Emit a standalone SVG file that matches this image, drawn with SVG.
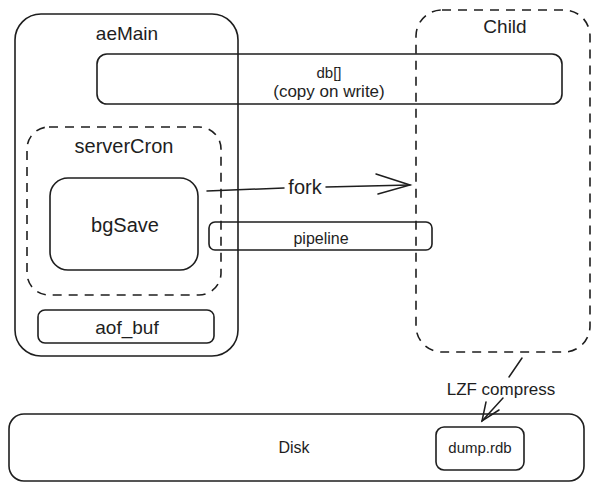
<svg xmlns="http://www.w3.org/2000/svg" width="602" height="492" viewBox="0 0 602 492">
<defs>
<style>
.box{fill:none;stroke:#1e1e1e;stroke-width:1.6}
.dash{fill:none;stroke:#1e1e1e;stroke-width:1.6;stroke-dasharray:9 7}
.ln{fill:none;stroke:#1e1e1e;stroke-width:1.5;stroke-linecap:round}
text{font-family:"Liberation Sans",Arial,sans-serif;fill:#1e1e1e;text-anchor:middle;dominant-baseline:central}
</style>
</defs>
<rect width="602" height="492" fill="#ffffff"/>
<g id="aeMain">
<rect class="box" x="15" y="14" width="223" height="342" rx="26"/>
<text x="127" y="33" font-size="19">aeMain</text>
</g>
<g id="child">
<rect class="dash" x="416" y="10" width="174" height="342" rx="26"/>
<text x="505" y="26" font-size="19">Child</text>
</g>
<g id="db">
<rect class="box" x="97" y="54" width="465" height="50" rx="10"/>
<text x="329" y="72" font-size="15">db[]</text>
<text x="329" y="91" font-size="17">(copy on write)</text>
</g>
<g id="serverCron">
<rect class="dash" x="27" y="127" width="194" height="168" rx="22"/>
<text x="124" y="146" font-size="20">serverCron</text>
</g>
<g id="bgSave">
<rect class="box" x="50" y="178" width="148" height="92" rx="18"/>
<text x="125" y="225" font-size="20">bgSave</text>
</g>
<g id="pipeline">
<rect class="box" x="209" y="222" width="223" height="28" rx="6"/>
<text x="321" y="238" font-size="16">pipeline</text>
</g>
<g id="aof_buf">
<rect class="box" x="38" y="310" width="176" height="33" rx="7"/>
<text x="127" y="327" font-size="19">aof_buf</text>
</g>
<g id="disk">
<rect class="box" x="9" y="414" width="575" height="67" rx="15"/>
<text x="294" y="447" font-size="16">Disk</text>
</g>
<g id="dump">
<rect class="box" x="436" y="427" width="88" height="43" rx="8"/>
<text x="480" y="447" font-size="15">dump.rdb</text>
</g>
<g id="connectors">
<line class="ln" x1="207" y1="191" x2="284" y2="188"/>
<line class="ln" x1="326" y1="187" x2="410" y2="185"/>
<polyline class="ln" points="376,174 410,185 378,194"/>
<text x="305" y="187" font-size="20">fork</text>
<line class="ln" x1="522" y1="358" x2="509" y2="377"/>
<text x="501" y="389" font-size="17">LZF compress</text>
<line class="ln" x1="503" y1="398" x2="482" y2="421"/>
<polyline class="ln" points="486,402 482,421 499,410"/>
</g>
</svg>
